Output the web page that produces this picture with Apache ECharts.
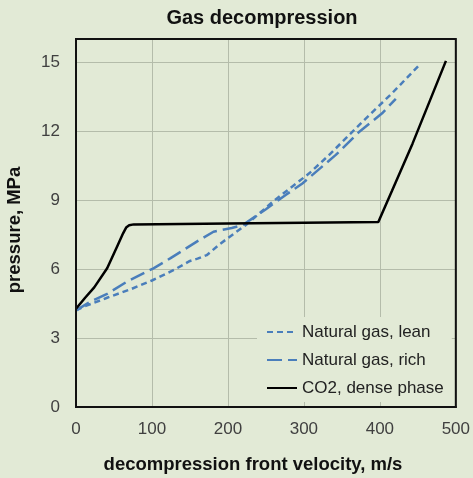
<!DOCTYPE html>
<html>
<head>
<meta charset="utf-8">
<script src="https://cdn.jsdelivr.net/npm/echarts@6/dist/echarts.min.js"></script>
<style>
html,body{margin:0;padding:0;background:#E2EAD6;}
#chart{width:473px;height:478px;}
</style>
</head>
<body>
<div id="chart"></div>
<script>
// ---- data ----
const leanVelocity = [0, 10, 41, 72, 100, 129, 150, 160, 172, 190, 225, 260, 307, 333, 377, 416, 452];
const leanPressure = [4.2, 4.36, 4.75, 5.12, 5.5, 5.96, 6.35, 6.45, 6.6, 7.1, 7.95, 8.95, 10.16, 10.95, 12.4, 13.64, 14.87];

const richVelocity = [0, 19, 41, 67, 102, 124, 159, 181, 195, 205, 220, 250, 276, 298, 342, 373, 403, 421];
const richPressure = [4.2, 4.58, 4.92, 5.45, 6.03, 6.46, 7.19, 7.62, 7.72, 7.78, 7.92, 8.6, 9.22, 9.72, 10.96, 11.97, 12.77, 13.4];

const co2Velocity = [0, 12, 24, 41, 54, 62, 66, 70, 76, 200, 300, 398, 416, 443, 487];
const co2Pressure = [4.27, 4.75, 5.2, 6.03, 6.97, 7.55, 7.8, 7.9, 7.94, 7.98, 8.01, 8.04, 9.4, 11.45, 15.05];

const seriesNames = ['Natural gas, lean', 'Natural gas, rich', 'CO2, dense phase'];
const xTicks = [0, 100, 200, 300, 400, 500];
const yTicks = [0, 3, 6, 9, 12, 15];
const chartTitle = 'Gas decompression';
const xTitle = 'decompression front velocity, m/s';
const yTitle = 'pressure, MPa';

// ---- build ----
const zip = (xs, ys) => xs.map((x, i) => [x, ys[i]]);
const FONT = '"Liberation Sans", Arial, sans-serif';
const BG = '#E2EAD6';
const BLUE = '#4A7EBB';

const chart = echarts.init(document.getElementById('chart'), null, {renderer: 'canvas'});
chart.setOption({
  backgroundColor: BG,
  animation: false,
  grid: {left: 76, right: 16, top: 39, bottom: 71, show: true, borderColor: '#111', borderWidth: 2, containLabel: false, z: 10},
  xAxis: {
    type: 'value', min: xTicks[0], max: xTicks[xTicks.length - 1], interval: 100,
    axisLine: {show: true, onZero: false, lineStyle: {color: '#111', width: 2}},
    axisTick: {show: false},
    axisLabel: {margin: 14, fontSize: 17, color: '#404040', fontFamily: FONT,
      formatter: v => xTicks.includes(v) ? String(v) : ''},
    splitLine: {show: true, lineStyle: {color: '#B4BCAA', width: 1}}
  },
  yAxis: {
    type: 'value', min: 0, max: 16, interval: 3,
    axisLine: {show: true, onZero: false, lineStyle: {color: '#111', width: 2}},
    axisTick: {show: false},
    axisLabel: {margin: 16, fontSize: 17, color: '#404040', fontFamily: FONT,
      formatter: v => yTicks.includes(v) ? String(v) : ''},
    splitLine: {show: true, lineStyle: {color: '#B4BCAA', width: 1}}
  },
  legend: {
    orient: 'vertical', left: 257, top: 317,
    padding: [5, 8, 4, 9],
    backgroundColor: BG,
    itemWidth: 30, itemHeight: 14, itemGap: 8,
    itemStyle: {opacity: 0},
    textStyle: {fontSize: 17, color: '#222', fontFamily: FONT, lineHeight: 20},
    data: seriesNames
  },
  graphic: [
    {type: 'text', x: 262, y: 18, style: {text: chartTitle, font: 'bold 20px ' + FONT, fill: '#111', align: 'center', verticalAlign: 'middle'}},
    {type: 'text', x: 253, y: 465, style: {text: xTitle, font: 'bold 18.5px ' + FONT, fill: '#111', align: 'center', verticalAlign: 'middle'}},
    {type: 'text', x: 15, y: 230, rotation: Math.PI / 2, style: {text: yTitle, font: 'bold 18.5px ' + FONT, fill: '#111', align: 'center', verticalAlign: 'middle'}}
  ],
  series: [
    {name: seriesNames[0], type: 'line', data: zip(leanVelocity, leanPressure), symbol: 'none', showSymbol: false,
      lineStyle: {color: BLUE, width: 2.5, type: [6, 4]}, itemStyle: {color: BLUE}},
    {name: seriesNames[1], type: 'line', data: zip(richVelocity, richPressure), symbol: 'none', showSymbol: false,
      lineStyle: {color: BLUE, width: 2.5, type: [15, 6]}, itemStyle: {color: BLUE}},
    {name: seriesNames[2], type: 'line', data: zip(co2Velocity, co2Pressure), symbol: 'none', showSymbol: false,
      lineStyle: {color: '#000', width: 2.5}, itemStyle: {color: '#000'}}
  ]
});
</script>
</body>
</html>
